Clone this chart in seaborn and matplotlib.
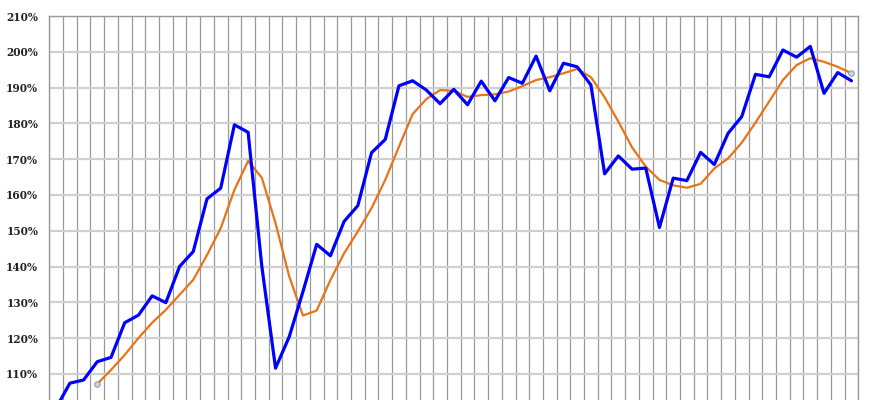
import matplotlib
matplotlib.use("Agg")
import matplotlib.pyplot as plt
import seaborn as sns
import pandas as pd
import numpy as np
from matplotlib.ticker import FixedLocator, FuncFormatter

# Main series (blue), values in percent
series_values = [
    100.5, 107.4, 108.3, 113.4, 114.6, 124.3, 126.4, 131.8, 129.9, 140.0,
    144.2, 158.9, 161.9, 179.6, 177.5, 140.0, 111.6, 120.4, 133.0, 146.2,
    143.0, 152.6, 157.0, 171.8, 175.5, 190.5, 191.9, 189.3, 185.5, 189.5,
    185.2, 191.8, 186.3, 192.8, 191.2, 198.8, 189.1, 196.8, 195.8, 190.7,
    165.9, 170.9, 167.2, 167.5, 150.9, 164.7, 164.0, 171.9, 168.5, 177.2,
    181.9, 193.7, 193.0, 200.5, 198.5, 201.5, 188.4, 194.2, 191.9,
]

# Trend series (orange), starting at the 4th point
trend_start = 3
trend_values = [
    107.2, 111.1, 115.3, 120.0, 124.3, 127.9, 132.1, 136.3, 143.2, 150.7,
    161.4, 169.5, 164.8, 152.1, 137.2, 126.3, 127.7, 136.2, 143.7, 149.8,
    156.3, 164.2, 173.5, 182.6, 186.8, 189.3, 189.1, 187.4, 187.9, 188.1,
    188.9, 190.4, 192.1, 192.9, 194.0, 195.2, 192.9, 187.3, 180.5, 173.3,
    167.9, 164.2, 162.7, 162.0, 163.1, 167.4, 170.2, 174.6, 180.2, 186.1,
    192.1, 196.3, 198.2, 197.2, 195.8, 194.0,
]

y_ticks = [110, 120, 130, 140, 150, 160, 170, 180, 190, 200, 210]

n = len(series_values)
df_main = pd.DataFrame({"idx": np.arange(n), "value": series_values})
df_trend = pd.DataFrame({"idx": np.arange(trend_start, trend_start + len(trend_values)),
                         "value": trend_values})

sns.set_style("white")
fig = plt.figure(figsize=(8.7, 4.0), dpi=100)
ax = fig.add_axes([49.3 / 870, 0.0, (858.3 - 49.3) / 870, 1 - 16 / 400])

sns.lineplot(data=df_main, x="idx", y="value", ax=ax, color="#0000ff",
             linewidth=2.3, zorder=4)
sns.lineplot(data=df_trend, x="idx", y="value", ax=ax, color="#e8731a",
             linewidth=1.6, zorder=3)
# end markers on trend line
ends = df_trend.iloc[[0, -1]]
ax.scatter(ends["idx"], ends["value"], s=16, facecolor="#c8d4e0",
           edgecolor="#8899aa", linewidth=0.7, zorder=5)

ax.set_xlim(-0.5, n - 0.5)
ax.set_ylim(102.7, 210)

ax.xaxis.set_major_locator(FixedLocator(np.arange(-0.5, n + 0.5, 1.0)))
ax.yaxis.set_major_locator(FixedLocator(y_ticks))
ax.yaxis.set_major_formatter(FuncFormatter(lambda v, p: f"{int(round(v))}%"))

ax.grid(axis="y", color="#d0d0d0", linewidth=1.6, zorder=1)
ax.grid(axis="x", color="#999999", linewidth=0.9, zorder=2)
ax.set_axisbelow(True)

ax.tick_params(axis="x", length=0, labelbottom=False)
ax.tick_params(axis="y", length=0, pad=8)
for lab in ax.get_yticklabels():
    lab.set_fontfamily("DejaVu Serif")
    lab.set_fontweight("bold")
    lab.set_fontsize(7.6)
    lab.set_color("#222222")

ax.set_xlabel("")
ax.set_ylabel("")
for side in ["top", "right", "left"]:
    ax.spines[side].set_color("#999999")
    ax.spines[side].set_linewidth(1.0)
ax.spines["bottom"].set_visible(False)

fig.savefig("out.png", dpi=100)
